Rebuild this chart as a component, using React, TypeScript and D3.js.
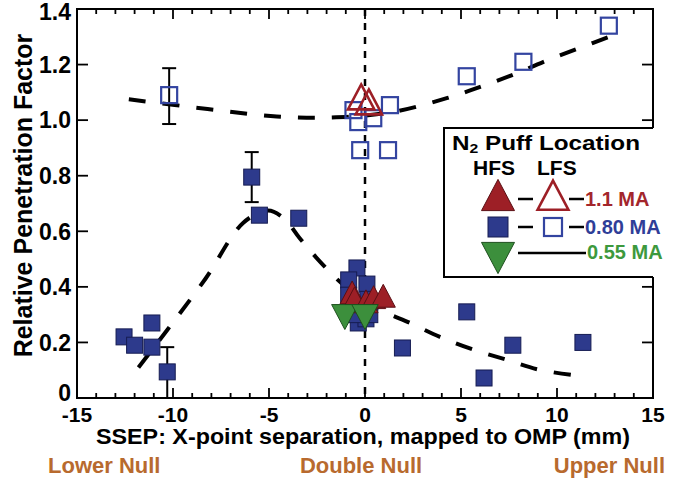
import React from "react";
import * as d3 from "d3";

// ---- data ----
const xTickValues = [-15, -10, -5, 0, 5, 10, 15];
const xTickLabels = ["-15", "-10", "-5", "0", "5", "10", "15"];
const yTickValues = [0, 0.2, 0.4, 0.6, 0.8, 1.0, 1.2, 1.4];
const yTickLabels = ["0", "0.2", "0.4", "0.6", "0.8", "1.0", "1.2", "1.4"];

// HFS puff, 0.80 MA (filled squares)
const hfs080: [number, number][] = [
  [-12.55, 0.22], [-12.0, 0.19], [-11.1, 0.27], [-11.1, 0.183], [-10.3, 0.094],
  [-5.9, 0.795], [-5.5, 0.658], [-3.45, 0.647],
  [-0.42, 0.468], [-0.85, 0.425], [0.1, 0.41], [-0.85, 0.37], [0.15, 0.355],
  [-0.3, 0.33], [-0.35, 0.27], [0.05, 0.285], [-0.6, 0.3], [0.25, 0.3],
  [1.95, 0.18], [5.3, 0.31], [6.2, 0.072], [7.7, 0.19], [11.35, 0.2],
];
// LFS puff, 0.80 MA (open squares)
const lfs080: [number, number][] = [
  [-10.2, 1.09], [-0.6, 1.036], [-0.35, 0.993], [0.43, 1.007], [1.3, 1.054],
  [-0.25, 0.892], [1.2, 0.892], [5.3, 1.158], [8.25, 1.21], [12.7, 1.34],
];
// HFS puff, 1.1 MA (filled triangles)
const hfs11: [number, number][] = [
  [-0.67, 0.372], [-0.55, 0.35], [0.05, 0.34], [0.45, 0.355], [0.95, 0.36],
];
// LFS puff, 1.1 MA (open triangles)
const lfs11: [number, number][] = [[-0.2, 1.075], [0.2, 1.057]];
// 0.55 MA (inverted triangles)
const hfs055: [number, number][] = [[-1.05, 0.3], [0.0, 0.3]];

// error bars: x, low, high
const errorBars: [number, number, number][] = [
  [-10.3, 0.0, 0.183],
  [-5.9, 0.705, 0.885],
  [-10.2, 0.986, 1.187],
];

// dashed trend curves
const upperTrend: [number, number][] = [
  [-12.3, 1.075], [-8.2, 1.04], [-4.6, 1.013], [-1.5, 1.01], [1.5, 1.03],
  [4.3, 1.08], [6.0, 1.12], [7.7, 1.163], [9.3, 1.21], [11.0, 1.255], [13.1, 1.31],
];
const lowerTrend: [number, number][] = [
  [-11.8, 0.11], [-10.3, 0.245], [-8.3, 0.43], [-6.35, 0.63], [-5.05, 0.675],
  [-4.2, 0.645], [-3.4, 0.575], [-2.2, 0.48], [-1.0, 0.4], [0.8, 0.317],
  [2.35, 0.27], [3.9, 0.22], [5.6, 0.175], [7.4, 0.137], [9.0, 0.103],
  [10.8, 0.083], [11.3, 0.08],
];

const legendRows = ["1.1 MA", "0.80 MA", "0.55 MA"];
const bottomLabels = ["Lower Null", "Double Null", "Upper Null"];

// ---- styles ----
const FONT = "'Liberation Sans', Arial, Helvetica, sans-serif";
const NAVY = "#2d3a8c";
const NAVY_EDGE = "#161c52";
const RED = "#9d1f26";
const RED_EDGE = "#5a0f14";
const GREEN = "#3c8f3c";
const GREEN_EDGE = "#1e4f1e";
const BROWN = "#b86a2e";

const W = 674;
const H = 480;
const L = 77, R = 653, T = 9, B = 398;

const triUp = (cx: number, cy: number, s: number) =>
  `M${cx},${cy - s * 0.62} L${cx + s * 0.55},${cy + s * 0.42} L${cx - s * 0.55},${cy + s * 0.42} Z`;
const triDown = (cx: number, cy: number, s: number) =>
  `M${cx},${cy + s * 0.62} L${cx + s * 0.55},${cy - s * 0.42} L${cx - s * 0.55},${cy - s * 0.42} Z`;

export default function App() {
  const x = d3.scaleLinear().domain([-15, 15]).range([L, R]);
  const y = d3.scaleLinear().domain([0, 1.4]).range([B, T]);
  const line = d3
    .line<[number, number]>()
    .x((d) => x(d[0]))
    .y((d) => y(d[1]))
    .curve(d3.curveCatmullRom.alpha(0.5));

  const minorX = d3.range(-15, 16, 1);
  const sq = 16;

  const bottomPos: { x: number; anchor: "start" | "middle" | "end" }[] = [
    { x: 48, anchor: "start" },
    { x: 361, anchor: "middle" },
    { x: 665, anchor: "end" },
  ];

  return (
    <svg width={W} height={H} style={{ display: "block", position: "absolute", left: 0, top: 0, background: "#fff" }}>
      <rect x={0} y={0} width={W} height={H} fill="#fff" />

      {/* vertical dashed line at 0 */}
      <line x1={x(0)} x2={x(0)} y1={T} y2={B} stroke="#000" strokeWidth={2.5} strokeDasharray="7,7" />

      {/* trend curves */}
      <path d={line(upperTrend) || ""} fill="none" stroke="#000" strokeWidth={4} strokeDasharray="17,17" />
      <path d={line(lowerTrend) || ""} fill="none" stroke="#000" strokeWidth={4} strokeDasharray="17,17" />

      {/* error bars */}
      {errorBars.map(([ex, lo, hi], i) => (
        <g key={`eb${i}`} stroke="#000" strokeWidth={2}>
          <line x1={x(ex)} x2={x(ex)} y1={y(lo)} y2={y(hi)} />
          <line x1={x(ex) - 7} x2={x(ex) + 7} y1={y(lo)} y2={y(lo)} />
          <line x1={x(ex) - 7} x2={x(ex) + 7} y1={y(hi)} y2={y(hi)} />
        </g>
      ))}

      {/* open squares */}
      {lfs080.map(([px, py], i) => (
        <rect key={`os${i}`} x={x(px) - sq / 2} y={y(py) - sq / 2} width={sq} height={sq}
          fill="none" stroke="#3344a0" strokeWidth={2.2} />
      ))}
      {/* open triangles */}
      {lfs11.map(([px, py], i) => (
        <path key={`ot${i}`} d={triUp(x(px), y(py), 24)} fill="none" stroke={RED} strokeWidth={2.6} />
      ))}

      {/* filled squares */}
      {hfs080.map(([px, py], i) => (
        <rect key={`fs${i}`} x={x(px) - sq / 2} y={y(py) - sq / 2} width={sq} height={sq}
          fill={NAVY} stroke={NAVY_EDGE} strokeWidth={1} />
      ))}
      {/* filled triangles */}
      {hfs11.map(([px, py], i) => (
        <path key={`ft${i}`} d={triUp(x(px), y(py), 22)} fill={RED} stroke={RED_EDGE} strokeWidth={1} />
      ))}
      {/* inverted green triangles */}
      {hfs055.map(([px, py], i) => (
        <path key={`gt${i}`} d={triDown(x(px), y(py), 24)} fill={GREEN} stroke={GREEN_EDGE} strokeWidth={1} />
      ))}

      {/* axes frame */}
      <rect x={L} y={T} width={R - L} height={B - T} fill="none" stroke="#000" strokeWidth={2} />
      {minorX.map((v) => {
        const major = v % 5 === 0;
        const len = major ? 10 : 5;
        return (
          <g key={`xt${v}`} stroke="#000" strokeWidth={1.8}>
            <line x1={x(v)} x2={x(v)} y1={B} y2={B - len} />
            <line x1={x(v)} x2={x(v)} y1={T} y2={T + len} />
          </g>
        );
      })}
      {yTickValues.map((v) => (
        <g key={`yt${v}`} stroke="#000" strokeWidth={1.8}>
          <line x1={L} x2={L + 11} y1={y(v)} y2={y(v)} />
          <line x1={R} x2={R - 11} y1={y(v)} y2={y(v)} />
        </g>
      ))}

      {/* tick labels */}
      {xTickValues.map((v, i) => (
        <text key={`xl${v}`} x={x(v)} y={422} textAnchor="middle" fontFamily={FONT} fontWeight="bold" fontSize={21} fill="#000">
          {xTickLabels[i]}
        </text>
      ))}
      {yTickValues.map((v, i) => (
        <text key={`yl${v}`} x={71} y={y(v) - (v === 0 ? 5 : v === 1.4 ? -3 : 0)} dy="0.36em" textAnchor="end"
          fontFamily={FONT} fontWeight="bold" fontSize={23} fill="#000">
          {yTickLabels[i]}
        </text>
      ))}

      {/* axis titles */}
      <text transform={`translate(32,${(T + B) / 2 - 8}) rotate(-90)`} textAnchor="middle" fontFamily={FONT}
        fontWeight="bold" fontSize={25} fill="#000">
        Relative Penetration Factor
      </text>
      <text x={(L + R) / 2 - 2} y={444} textAnchor="middle" fontFamily={FONT} fontWeight="bold" fontSize={22}
        textLength={534} lengthAdjust="spacingAndGlyphs" fill="#000">
        SSEP: X-point separation, mapped to OMP (mm)
      </text>
      {bottomLabels.map((t, i) => (
        <text key={t} x={bottomPos[i].x} y={473} textAnchor={bottomPos[i].anchor} fontFamily={FONT} fontWeight="bold"
          fontSize={22} fill={BROWN}>
          {t}
        </text>
      ))}

      {/* legend */}
      <rect x={444} y={128} width={W - 444} height={149} fill="#fff" />
      <path d={`M${R},128 H444 V277 H${R}`} fill="none" stroke="#000" strokeWidth={2} />
      <text x={452} y={150} fontFamily={FONT} fontWeight="bold" fontSize={20} fill="#000"
        textLength={188} lengthAdjust="spacingAndGlyphs">
        N<tspan fontSize={13} dy={3}>2</tspan><tspan dy={-3}> Puff Location</tspan>
      </text>
      <text x={473} y={175} fontFamily={FONT} fontWeight="bold" fontSize={21} fill="#000">
        HFS
      </text>
      <text x={537} y={175} fontFamily={FONT} fontWeight="bold" fontSize={21} fill="#000">
        LFS
      </text>
      {/* row 1 */}
      <path d={triUp(498, 198, 30)} fill={RED} stroke={RED_EDGE} strokeWidth={1} />
      <line x1={518} x2={533} y1={199} y2={199} stroke="#000" strokeWidth={2.5} />
      <path d={triUp(553, 198, 28)} fill="none" stroke={RED} strokeWidth={2.6} />
      <line x1={569} x2={584} y1={199} y2={199} stroke="#000" strokeWidth={2.5} />
      <text x={585} y={206} fontFamily={FONT} fontWeight="bold" fontSize={20} fill="#a3262c">{legendRows[0]}</text>
      {/* row 2 */}
      <rect x={488} y={217} width={20} height={20} fill={NAVY} stroke={NAVY_EDGE} strokeWidth={1} />
      <line x1={518} x2={533} y1={227} y2={227} stroke="#000" strokeWidth={2.5} />
      <rect x={544} y={218} width={18} height={18} fill="none" stroke="#3344a0" strokeWidth={2.2} />
      <line x1={569} x2={584} y1={227} y2={227} stroke="#000" strokeWidth={2.5} />
      <text x={585} y={234} fontFamily={FONT} fontWeight="bold" fontSize={20} fill="#2f3e98">{legendRows[1]}</text>
      {/* row 3 */}
      <path d={triDown(498, 255, 30)} fill={GREEN} stroke={GREEN_EDGE} strokeWidth={1} />
      <line x1={518} x2={586} y1={253} y2={253} stroke="#000" strokeWidth={2.5} />
      <text x={587} y={259} fontFamily={FONT} fontWeight="bold" fontSize={20} fill="#3d993d">{legendRows[2]}</text>
    </svg>
  );
}
